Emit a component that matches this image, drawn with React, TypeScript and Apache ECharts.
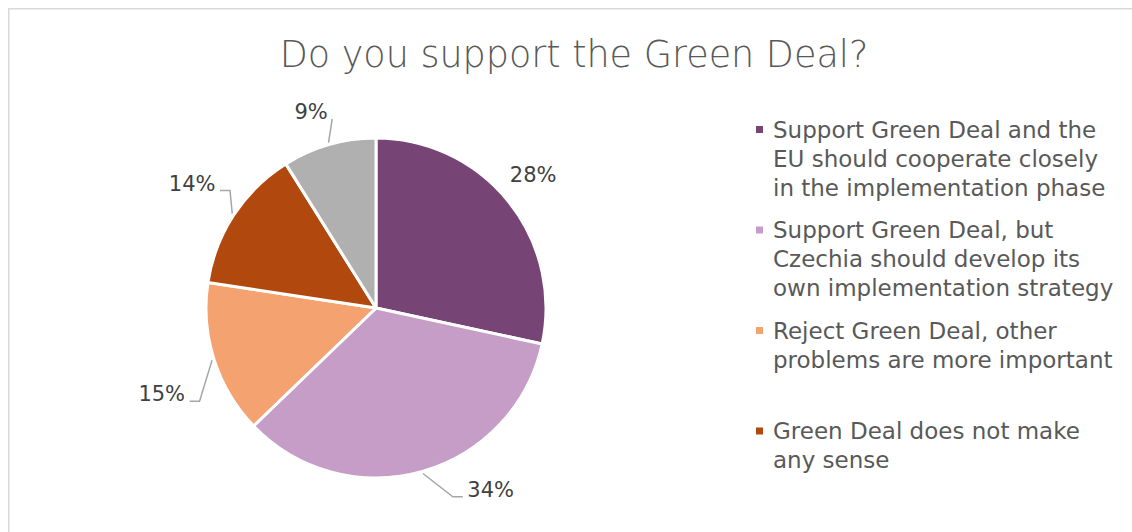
import React, { useEffect, useRef } from 'react';
import * as echarts from 'echarts';

const titleText = 'Do you support the Green Deal?';
const categories = [
  'Support Green Deal and the EU should cooperate closely in the implementation phase',
  'Support Green Deal, but Czechia should develop its own implementation strategy',
  'Reject Green Deal, other problems are more important',
  'Green Deal does not make any sense',
  'Other',
];
const values = [28.4, 34.4, 14.6, 13.7, 8.9];
const colors = ['#774575', '#C59DC6', '#F4A26F', '#B1490F', '#B0B0B0'];
const legendLabels = [
  'Support Green Deal and the\nEU should cooperate closely\nin the implementation phase',
  'Support Green Deal, but\nCzechia should develop its\nown implementation strategy',
  'Reject Green Deal, other\nproblems are more important',
  'Green Deal does not make\nany sense',
];

const FONT = '"DejaVu Sans", sans-serif';
const CX = 368;
const CY = 300;
const R = 170;
// label placement tweaks (layout only): distance of label centre from pie centre, angular shift in degrees
const labelDist = [206, 215, 231, 222, 206.5];
const labelShift = [-1.4, -16.4, -4.3, 0.8, -2.3];

export default function App() {
  const ref = useRef<HTMLDivElement>(null);
  useEffect(() => {
    if (!ref.current) return;
    const chart = echarts.init(ref.current, null, { renderer: 'svg' });
    const legendX = 748;
    const firstCenter = 121.5;
    const step = 100.5;
    const legendGraphics: any[] = [];
    legendLabels.forEach((txt, i) => {
      const c = firstCenter + i * step;
      legendGraphics.push({
        type: 'rect',
        shape: { x: legendX, y: c - 3.5, width: 7, height: 7 },
        style: { fill: colors[i] },
      });
      legendGraphics.push({
        type: 'text',
        x: legendX + 17,
        y: c - 14.5,
        style: {
          text: txt,
          fontSize: 23,
          fontFamily: FONT,
          lineHeight: 29,
          fill: '#595959',
          verticalAlign: 'top',
          align: 'left',
        },
      });
    });

    const labelLayout = (params: any) => {
      const i = params.dataIndex;
      const pts = params.labelLinePoints;
      const p0 = pts && pts[0] ? pts[0] : [CX, CY - R];
      const mid = Math.atan2(p0[0] - CX, -(p0[1] - CY));
      const ang = mid + (labelShift[i] * Math.PI) / 180;
      const d = labelDist[i];
      const lx = CX + d * Math.sin(ang);
      const ly = CY - d * Math.cos(ang);
      const w = params.labelRect.width;
      const edge = [CX + (R + 2) * Math.sin(mid), CY - (R + 2) * Math.cos(mid)];
      const leftSide = lx < edge[0];
      const ax = leftSide ? lx + w / 2 + 4.5 : lx - w / 2 - 4.5;
      const ay = ly + 7;
      const dir = leftSide ? 1 : -1;
      const span = (edge[0] - ax) * dir;
      const knee = [ax + dir * Math.max(0, Math.min(10, span)), ay];
      return {
        x: lx,
        y: ly,
        align: 'center',
        verticalAlign: 'middle',
        labelLinePoints: [edge, knee, [ax, ay]],
      };
    };

    chart.setOption({
      animation: false,
      title: {
        text: titleText,
        left: 566,
        textAlign: 'center',
        top: 28,
        padding: 0,
        textStyle: { fontSize: 36.5, fontWeight: 300, fontFamily: FONT, color: '#595959' },
      },
      legend: { show: false },
      graphic: [
        { type: 'line', shape: { x1: 0, y1: 0.75, x2: 1124, y2: 0.75 }, style: { stroke: '#d9d9d9', lineWidth: 1.5 } },
        { type: 'line', shape: { x1: 0.75, y1: 0, x2: 0.75, y2: 524 }, style: { stroke: '#d9d9d9', lineWidth: 1.5 } },
        ...legendGraphics,
      ],
      series: [
        {
          type: 'pie',
          center: [CX, CY],
          radius: R,
          startAngle: 90,
          clockwise: true,
          avoidLabelOverlap: false,
          itemStyle: { borderColor: '#ffffff', borderWidth: 3 },
          label: {
            show: true,
            position: 'outside',
            formatter: (p: any) => Math.round(p.value) + '%',
            fontSize: 21,
            fontFamily: FONT,
            color: '#404040',
          },
          labelLine: {
            show: true,
            length: 16,
            length2: 8,
            lineStyle: { color: '#a6a6a6', width: 1.5 },
          },
          labelLayout,
          data: categories.map((name, i) => ({
            name,
            value: values[i],
            itemStyle: { color: colors[i] },
            labelLine: i === 0 ? { show: false } : undefined,
          })),
        },
      ],
    });
    return () => chart.dispose();
  }, []);
  return (
    <div
      ref={ref}
      style={{ position: 'absolute', left: 8, top: 8, width: 1124, height: 524 }}
    />
  );
}
